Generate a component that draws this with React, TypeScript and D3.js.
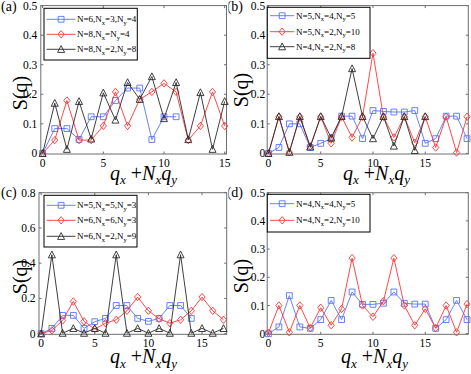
import React from "react";
import * as d3 from "d3";

// x position is the index q_x + N_x q_y
const aBlue = [0, 0.084, 0.084, 0.047, 0.124, 0.124, 0.179, 0.221, 0.221, 0.047, 0.124, 0.124];
const aRed = [0, 0.045, 0.179, 0.045, 0.045, 0.093, 0.208, 0.093, 0.183, 0.208, 0.237, 0.208, 0.045, 0.093, 0.208, 0.093];
const aBlack = [0, 0.17, 0.014, 0.176, 0.049, 0.205, 0.113, 0.24, 0.183, 0.26, 0.118, 0.24, 0.047, 0.206, 0.014, 0.176];

const bBlue = [0, 0.02, 0.1, 0.1, 0.02, 0.034, 0.05, 0.126, 0.126, 0.05, 0.145, 0.142, 0.14, 0.14, 0.145, 0.034, 0.05, 0.126, 0.126, 0.05];
const bRed = [0, 0.124, 0.004, 0.124, 0.024, 0.124, 0.034, 0.124, 0.054, 0.124, 0.339, 0.124, 0.054, 0.124, 0.036, 0.124, 0.02, 0.124, 0.003, 0.124];
const bBlack = [0, 0.125, 0.004, 0.125, 0.022, 0.125, 0.053, 0.125, 0.287, 0.125, 0.05, 0.125, 0.025, 0.125, 0.01, 0.125];

const cBlue = [0, 0.03, 0.104, 0.104, 0.03, 0.068, 0.087, 0.16, 0.16, 0.087, 0.07, 0.087, 0.16, 0.16, 0.087];
const cRed = [0, 0.019, 0.075, 0.183, 0.07, 0.026, 0.06, 0.079, 0.13, 0.208, 0.13, 0.085, 0.06, 0.079, 0.13, 0.208, 0.13, 0.079];
const cBlack = [0, 0.448, 0.003, 0.03, 0.003, 0.03, 0.003, 0.448, 0.003, 0.03, 0.003, 0.03, 0.003, 0.448, 0.003, 0.03, 0.003, 0.03];

const dBlue = [0, 0.024, 0.135, 0.024, 0.019, 0.05, 0.118, 0.05, 0.148, 0.104, 0.104, 0.108, 0.148, 0.108, 0.105, 0.105, 0.019, 0.05, 0.118, 0.05];
const dRed = [0.003, 0.1, 0.005, 0.1, 0.02, 0.092, 0.03, 0.088, 0.268, 0.1, 0.06, 0.115, 0.268, 0.1, 0.03, 0.088, 0.02, 0.1, 0.005, 0.105];

const legendA = ["N=6,N_x=3,N_y=4", "N=8,N_x=N_y=4", "N=8,N_x=2,N_y=8"];
const legendB = ["N=5,N_x=4,N_y=5", "N=5,N_x=2,N_y=10", "N=4,N_x=2,N_y=8"];
const legendC = ["N=5,N_x=5,N_y=3", "N=6,N_x=6,N_y=3", "N=6,N_x=2,N_y=9"];
const legendD = ["N=4,N_x=4,N_y=5", "N=4,N_x=2,N_y=10"];

const xTicks = [0, 5, 10, 15];
const yTicks05 = [0, 0.1, 0.2, 0.3, 0.4, 0.5];
const yTicks08 = [0, 0.2, 0.4, 0.6, 0.8];

const W = 471;
const H = 374;
const FONT = "'Liberation Serif', 'Times New Roman', serif";
const FRAME = "#6e6e6e";

const styles: any = {
  blue: { color: "#5873ff", marker: "square" },
  red: { color: "#ff3434", marker: "diamond" },
  black: { color: "#2a2a2a", marker: "triangle" },
};

function markerPath(kind: string) {
  if (kind === "square") return "M-2.9,-2.9H2.9V2.9H-2.9Z";
  if (kind === "diamond") return "M0,-3.7L3.1,0L0,3.7L-3.1,0Z";
  return "M0,-3.7L3.5,3.1L-3.5,3.1Z";
}

const panels = [
  {
    label: "(a)", labelX: 1, labelY: 11,
    frame: { x0: 40.8, x1: 226.5, y0: 5.6, y1: 154 },
    xDomain: [-0.15, 15.15], yMax: 0.5, yTicks: yTicks05, gap: 3.5,
    series: [{ v: aBlue, s: "blue" }, { v: aRed, s: "red" }, { v: aBlack, s: "black" }],
    names: legendA,
    legend: { x: 44, y: 8.3, w: 93.3, h: 51.7, rows: [19.3, 34.3, 49.3], l0: 46.7, l1: 75.5, tx: 77 },
    xl: { x: 110, y: 179.5 }, yl: { x: 20, y: 93 },
  },
  {
    label: "(b)", labelX: 243, labelY: 11, end: true,
    frame: { x0: 267.2, x1: 468.3, y0: 5.6, y1: 154 },
    xDomain: [-0.12, 19.12], yMax: 0.5, yTicks: yTicks05, gap: 2,
    series: [{ v: bBlue, s: "blue" }, { v: bRed, s: "red" }, { v: bBlack, s: "black" }],
    names: legendB,
    legend: { x: 267.3, y: 7.3, w: 102.7, h: 51, rows: [15.7, 31.7, 46.7], l0: 270, l1: 294.3, tx: 296 },
    xl: { x: 343, y: 179.5 }, yl: { x: 241, y: 90 },
  },
  {
    label: "(c)", labelX: 1, labelY: 197,
    frame: { x0: 39, x1: 226.7, y0: 192.7, y1: 334.3 },
    xDomain: [-0.2, 17.3], yMax: 0.8, yTicks: yTicks08, gap: 3.5,
    series: [{ v: cBlue, s: "blue" }, { v: cRed, s: "red" }, { v: cBlack, s: "black" }],
    names: legendC,
    legend: { x: 44, y: 195.3, w: 93, h: 51.7, rows: [205.3, 220.3, 236.3], l0: 46.7, l1: 75.5, tx: 77 },
    xl: { x: 110, y: 363 }, yl: { x: 20, y: 277 },
  },
  {
    label: "(d)", labelX: 243, labelY: 197, end: true,
    frame: { x0: 267.2, x1: 468.3, y0: 192.7, y1: 334.3 },
    xDomain: [-0.12, 19.12], yMax: 0.5, yTicks: yTicks05, gap: 2,
    series: [{ v: dBlue, s: "blue" }, { v: dRed, s: "red" }],
    names: legendD,
    legend: { x: 267.3, y: 194.3, w: 102.7, h: 37.7, rows: [203.7, 220.3], l0: 270, l1: 294.3, tx: 296 },
    xl: { x: 341, y: 363 }, yl: { x: 241, y: 276 },
  },
];

function SubText({ text, size }: { text: string; size: number }) {
  // "_x" means subscript x
  const parts = text.split(/(_[a-z])/).filter((p) => p !== "");
  const shift = size * 0.28;
  let wasSub = false;
  return (
    <>
      {parts.map((p, i) => {
        if (p.startsWith("_")) {
          const el = (
            <tspan key={i} dy={wasSub ? 0 : shift} fontSize={size * 0.72}>
              {p.slice(1)}
            </tspan>
          );
          wasSub = true;
          return el;
        }
        const el = (
          <tspan key={i} dy={wasSub ? -shift : 0}>
            {p}
          </tspan>
        );
        wasSub = false;
        return el;
      })}
    </>
  );
}

function Panel({ p }: { p: any }) {
  const f = p.frame;
  const x = d3.scaleLinear().domain(p.xDomain).range([f.x0, f.x1]);
  const y = d3.scaleLinear().domain([0, p.yMax]).range([f.y1 - 0.6, f.y0]);
  const line = d3
    .line<number>()
    .x((_, i) => x(i))
    .y((d) => y(d));
  const tl = 2.5;
  return (
    <g>
      {/* frame and ticks */}
      <rect x={f.x0} y={f.y0} width={f.x1 - f.x0} height={f.y1 - f.y0} fill="none" stroke={FRAME} strokeWidth={1} />
      {xTicks.map((t) => (
        <g key={"xt" + t}>
          <line x1={x(t)} x2={x(t)} y1={f.y1} y2={f.y1 - tl} stroke={FRAME} />
          <line x1={x(t)} x2={x(t)} y1={f.y0} y2={f.y0 + tl} stroke={FRAME} />
          <text x={x(t)} y={f.y1 + 12.5} textAnchor="middle" fontFamily={FONT} fontSize={11.5}>
            {String(t)}
          </text>
        </g>
      ))}
      {p.yTicks.map((t: number) => (
        <g key={"yt" + t}>
          <line x1={f.x0} x2={f.x0 + tl} y1={y(t)} y2={y(t)} stroke={FRAME} />
          <line x1={f.x1} x2={f.x1 - tl} y1={y(t)} y2={y(t)} stroke={FRAME} />
          <text x={f.x0 - p.gap} y={y(t) + 4} textAnchor="end" fontFamily={FONT} fontSize={11.5}>
            {String(t)}
          </text>
        </g>
      ))}
      {/* series */}
      {p.series.map((s: any, k: number) => {
        const st = styles[s.s];
        return (
          <g key={"s" + k}>
            <path d={line(s.v) || ""} fill="none" stroke={st.color} strokeWidth={0.9} />
            {s.v.map((d: number, i: number) => (
              <path
                key={i}
                d={markerPath(st.marker)}
                transform={`translate(${x(i)},${y(d)})`}
                fill="none"
                stroke={st.color}
                strokeWidth={0.9}
              />
            ))}
          </g>
        );
      })}
      {/* legend */}
      <rect x={p.legend.x} y={p.legend.y} width={p.legend.w} height={p.legend.h} fill="#fff" stroke="#000" strokeWidth={1} />
      {p.names.map((n: string, i: number) => {
        const st = styles[p.series[i].s];
        const ry = p.legend.rows[i];
        const mx = (p.legend.l0 + p.legend.l1) / 2;
        return (
          <g key={"lg" + i}>
            <line x1={p.legend.l0} x2={p.legend.l1} y1={ry} y2={ry} stroke={st.color} strokeWidth={0.9} />
            <path d={markerPath(st.marker)} transform={`translate(${mx},${ry})`} fill="none" stroke={st.color} strokeWidth={0.9} />
            <text x={p.legend.tx} y={ry + 3} fontFamily={FONT} fontSize={9}>
              <SubText text={n} size={9} />
            </text>
          </g>
        );
      })}
      {/* axis labels */}
      <text
        transform={`translate(${p.yl.x},${p.yl.y}) rotate(-90)`}
        textAnchor="middle"
        dominantBaseline="central"
        fontFamily={FONT}
        fontSize={20}
      >
        S(q)
      </text>
      <text x={p.xl.x} y={p.xl.y} fontFamily={FONT} fontSize={20} fontStyle="italic">
        <tspan>q</tspan>
        <tspan dy={4.5} fontSize={13}>x</tspan>
        <tspan dy={-4.5} fontStyle="normal"> +</tspan>
        <tspan>N</tspan>
        <tspan dy={4.5} fontSize={13}>x</tspan>
        <tspan dy={-4.5}>q</tspan>
        <tspan dy={4.5} fontSize={13}>y</tspan>
      </text>
    </g>
  );
}

export default function App() {
  return (
    <svg width={W} height={H} style={{ position: "absolute", left: 0, top: 0, background: "#fff" }}>
      <defs>
        <clipPath id="rightcol">
          <rect x={228.5} y={0} width={W - 228.5} height={H} />
        </clipPath>
      </defs>
      <rect width={W} height={H} fill="#fff" />
      {panels.map((p, i) => (
        <g key={i}>
          <Panel p={p} />
          <text
            x={p.labelX}
            y={p.labelY}
            textAnchor={p.end ? "end" : "start"}
            fontFamily={FONT}
            fontSize={14}
            clipPath={p.end ? "url(#rightcol)" : undefined}
          >
            {p.label}
          </text>
        </g>
      ))}
    </svg>
  );
}
